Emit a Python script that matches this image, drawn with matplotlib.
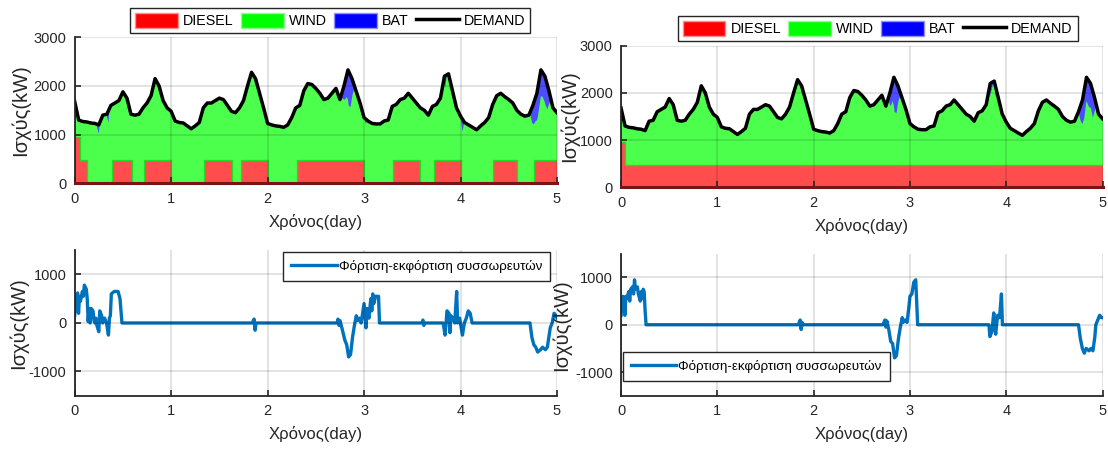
import numpy as np
import matplotlib
matplotlib.use('Agg')
from matplotlib import pyplot as plt
from matplotlib.patches import Patch
from matplotlib.lines import Line2D

plt.rcParams['font.family'] = ['Liberation Sans', 'DejaVu Sans']
plt.rcParams['axes.unicode_minus'] = False

# demand, hourly values (kW), hour 0..120
demand_kw = [1680, 1300, 1270, 1260, 1240, 1230, 1200, 1400, 1420, 1600,
             1650, 1700, 1880, 1750, 1420, 1400, 1420, 1550, 1650, 1800,
             2150, 2000, 1700, 1550, 1480, 1280, 1250, 1240, 1180, 1120,
             1180, 1250, 1550, 1650, 1650, 1700, 1750, 1720, 1600, 1480,
             1450, 1550, 1700, 2000, 2280, 2150, 1850, 1550, 1230, 1200,
             1180, 1170, 1150, 1200, 1350, 1550, 1600, 1900, 2050, 2030,
             1950, 1850, 1720, 1750, 1850, 1950, 1720, 2000, 2330, 2150,
             1900, 1650, 1350, 1280, 1230, 1220, 1220, 1280, 1300, 1580,
             1620, 1720, 1750, 1850, 1750, 1650, 1550, 1500, 1400, 1580,
             1620, 1750, 2200, 2250, 1900, 1550, 1380, 1250, 1200, 1150,
             1100, 1180, 1250, 1350, 1620, 1800, 1850, 1780, 1720, 1650,
             1500, 1420, 1380, 1400, 1600, 1850, 2330, 2200, 1900, 1550,
             1450]
demand_day = np.arange(len(demand_kw)) / 24.0

# diesel schedule (switch times in days, level held until next switch)
diesel_left_t = [0, 0.05, 0.125, 0.39, 0.59, 0.72, 1.0, 1.34, 1.63, 1.72, 2.0,
                 2.3, 3.0, 3.3, 3.58, 3.72, 4.0, 4.34, 4.59, 4.76, 5.0]
diesel_left_kw = [960, 470, 0, 470, 0, 470, 0, 470, 0, 470, 0,
                  470, 0, 470, 0, 470, 0, 470, 0, 470, 470]
diesel_right_t = [0, 0.04, 5.0]
diesel_right_kw = [950, 470, 470]

# battery charge(+)/discharge(-) power
bat_left_t = [0.0, 0.01, 0.02, 0.03, 0.04, 0.05, 0.06, 0.08, 0.09, 0.10,
              0.12, 0.13, 0.14, 0.15, 0.16, 0.17, 0.19, 0.20, 0.21, 0.22,
              0.23, 0.25, 0.26, 0.28, 0.29, 0.31, 0.33, 0.35, 0.36, 0.37,
              0.38, 0.41, 0.45, 0.47, 0.49, 1.84, 1.86, 1.87, 1.88, 2.72,
              2.73, 2.74, 2.75, 2.77, 2.80, 2.82, 2.84, 2.86, 2.88, 2.90,
              2.92, 2.93, 2.95, 2.97, 3.00, 3.02, 3.03, 3.05, 3.07, 3.08,
              3.09, 3.10, 3.12, 3.15, 3.16, 3.60, 3.61, 3.62, 3.63, 3.82,
              3.84, 3.86, 3.88, 3.89, 3.90, 3.92, 3.94, 3.96, 3.97, 3.99,
              4.02, 4.04, 4.06, 4.08, 4.10, 4.12, 4.72, 4.74, 4.76, 4.78,
              4.80, 4.83, 4.85, 4.88, 4.90, 4.93, 4.95, 4.97, 4.99, 5.0]
bat_left_kw = [150, 400, 500, 620, 200, 550, 450, 650, 550, 780,
               700, 500, 30, 300, 0, 300, 250, 50, 0, 100,
               -50, -180, 250, 150, 0, 100, 0, -250, 100, 150,
               600, 650, 650, 500, 0, 0, 80, -150, 0, 0,
               80, -50, 50, -100, -350, -450, -700, -650, -300, -50,
               150, 50, 100, 0, 400, -100, 300, 100, 500, 250,
               600, 400, 550, 550, 0, 0, 60, -50, 0, 0,
               -250, 250, 200, -200, 150, 100, 0, 650, 0, 100,
               -250, 0, 100, 250, 200, 0, 0, -300, -450, -500,
               -600, -550, -500, -550, -500, -100, 0, 200, 150, 100]

bat_right_t = [0.0, 0.01, 0.02, 0.03, 0.04, 0.05, 0.06, 0.08, 0.09, 0.10,
               0.12, 0.13, 0.14, 0.15, 0.17, 0.18, 0.20, 0.21, 0.22, 0.23,
               0.24, 0.25, 0.26, 1.84, 1.86, 1.87, 1.88, 1.89, 2.72, 2.74,
               2.75, 2.76, 2.78, 2.80, 2.82, 2.84, 2.86, 2.88, 2.90, 2.92,
               2.93, 2.95, 2.97, 2.99, 3.00, 3.02, 3.04, 3.06, 3.08, 3.82,
               3.83, 3.85, 3.87, 3.88, 3.89, 3.91, 3.93, 3.95, 3.96, 4.75,
               4.77, 4.79, 4.81, 4.83, 4.86, 4.88, 4.90, 4.92, 4.93, 4.95,
               4.97, 4.99, 5.0]
bat_right_kw = [200, 450, 600, 500, 200, 600, 550, 700, 500, 750,
                800, 650, 950, 750, 800, 650, 500, 700, 550, 750,
                700, 300, 0, 0, 100, -100, 50, 0, 0, 100,
                -50, 80, -100, -350, -400, -700, -650, -300, -50, 150,
                50, 100, 50, 400, 600, 650, 900, 950, 0, 0,
                -250, -150, 250, 0, -200, 200, 150, 650, 0, 0,
                -300, -500, -600, -500, -550, -500, -550, -250, 0, 100,
                200, 150, 150]

RED = '#FF4D4D'
GREEN = '#4DFF4D'
BLUE = '#4D4DFF'
AXC = '#262626'
LINE_BLUE = '#0072BD'


def style_axes(ax, ylim, yticks, ylab_x):
    ax.set_xlim(0, 5)
    ax.set_ylim(*ylim)
    ax.set_xticks(range(6))
    ax.set_yticks(yticks)
    for s in ['top', 'right']:
        ax.spines[s].set_visible(False)
    for s in ['left', 'bottom']:
        ax.spines[s].set_linewidth(1.3)
        ax.spines[s].set_color(AXC)
    ax.tick_params(direction='in', length=4, width=1.2, colors=AXC,
                   labelsize=10.5, pad=6)
    ax.grid(True, color='#000000', alpha=0.13, linewidth=1.2)
    ax.set_axisbelow(False)
    ax.set_xlabel('Χρόνος(day)', fontsize=12, color=AXC, labelpad=6)
    ax.set_ylabel('Ισχύς(kW)', fontsize=14.5, color=AXC)
    ax.yaxis.set_label_coords(ylab_x, 0.5)


def plot_supply(ax, d_t, d_kw, b_t, b_kw, leg_xy, ylab_x):
    ax.fill_between(demand_day, 0, demand_kw, color=GREEN, lw=0)
    ax.fill_between(d_t, 0, d_kw, step='post', color=RED, lw=0)
    ax.step(d_t, d_kw, where='post', color='#22DD22', lw=1.0)
    # battery discharge sits on top of the stack, just under demand
    t_all = np.union1d(demand_day, b_t)
    dem = np.interp(t_all, demand_day, demand_kw)
    dis = np.minimum(np.interp(t_all, b_t, b_kw), 0)
    ax.fill_between(t_all, dem + dis, dem, where=dis < 0, interpolate=True,
                    color=BLUE, lw=0)
    ax.plot(demand_day, demand_kw, color='black', lw=2.5)
    ax.axhline(0, color='#7A1515', lw=2.2, clip_on=False, zorder=5)
    style_axes(ax, (0, 3000), [0, 1000, 2000, 3000], ylab_x)
    handles = [Patch(facecolor='#FF0000', edgecolor='#FF9090'),
               Patch(facecolor='#00FF00', edgecolor='#90FF90'),
               Patch(facecolor='#0000FF', edgecolor='#9090FF'),
               Line2D([], [], color='black', lw=2.5)]
    leg = fig.legend(handles, ['DIESEL', 'WIND', 'BAT', 'DEMAND'], ncol=4,
                     loc='center', bbox_to_anchor=leg_xy, fontsize=10.3,
                     handlelength=3.0, handleheight=1.3, columnspacing=0.5,
                     handletextpad=0.35, fancybox=False, framealpha=1,
                     edgecolor=AXC, borderpad=0.35)
    leg.get_frame().set_linewidth(1.0)


def plot_battery(ax, b_t, b_kw, loc, anchor, ylab_x):
    ax.plot(b_t, b_kw, color=LINE_BLUE, lw=2.4,
            label='Φόρτιση-εκφόρτιση συσσωρευτών')
    style_axes(ax, (-1500, 1500), [-1000, 0, 1000], ylab_x)
    leg = ax.legend(loc=loc, bbox_to_anchor=anchor, fontsize=9.6,
                    handlelength=3.4, fancybox=False, framealpha=1,
                    edgecolor=AXC, borderpad=0.6, handletextpad=0.15,
                    borderaxespad=0)
    leg.get_frame().set_linewidth(1.0)


fig = plt.figure(figsize=(11.08, 4.57), dpi=100)
ax_tl = fig.add_axes([0.0674, 0.5989, 0.4353, 0.3195])
ax_tr = fig.add_axes([0.5605, 0.5902, 0.4346, 0.3098])
ax_bl = fig.add_axes([0.0674, 0.1341, 0.4353, 0.3183])
ax_br = fig.add_axes([0.5605, 0.1341, 0.4346, 0.3106])

plot_supply(ax_tl, diesel_left_t, diesel_left_kw, bat_left_t, bat_left_kw,
            (0.298, 0.955), -0.093)
plot_supply(ax_tr, diesel_right_t, diesel_right_kw, bat_right_t, bat_right_kw,
            (0.792, 0.938), -0.086)
plot_battery(ax_bl, bat_left_t, bat_left_kw, 'upper right', (0.9855, 0.988),
             -0.097)
plot_battery(ax_br, bat_right_t, bat_right_kw, 'lower left', (0.004, 0.106),
             -0.103)

fig.savefig('out.png', dpi=100)
